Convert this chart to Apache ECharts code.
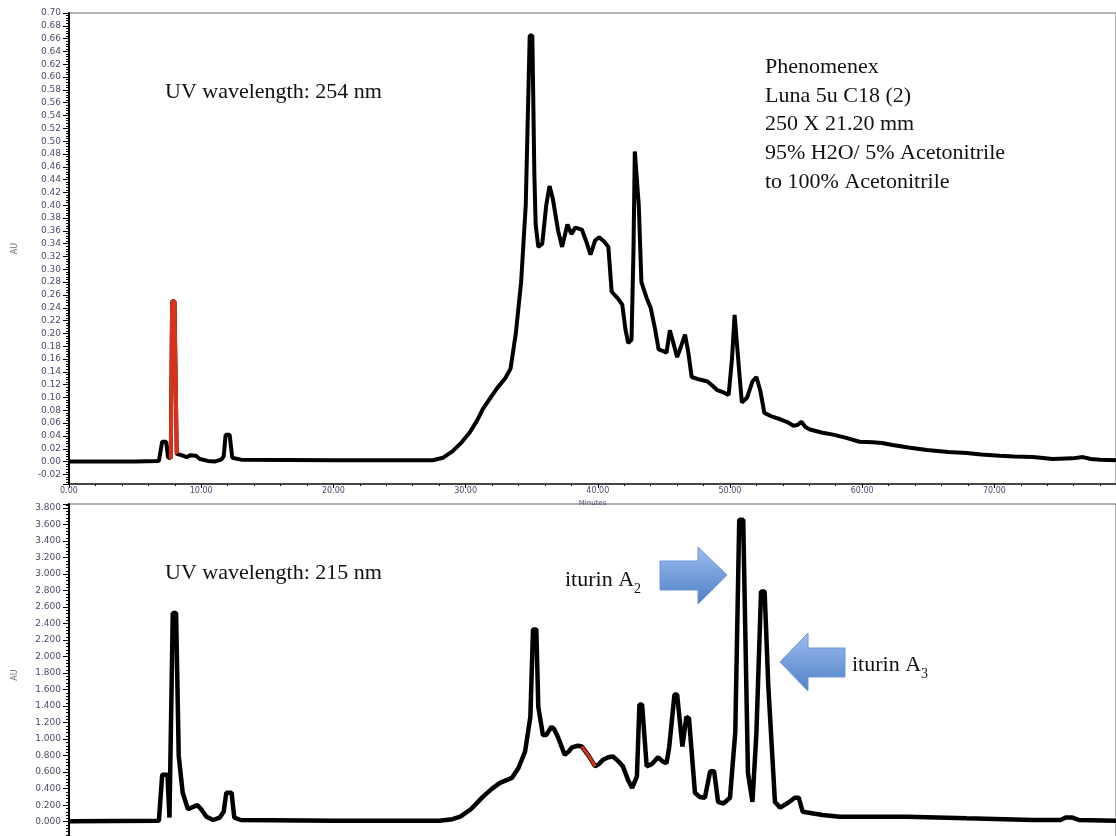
<!DOCTYPE html>
<html>
<head>
<meta charset="utf-8">
<script src="https://cdn.jsdelivr.net/npm/echarts@6/dist/echarts.min.js"></script>
<style>html,body{margin:0;padding:0;background:#fff;overflow:hidden}#c{width:1116px;height:846px}</style>
</head>
<body>
<div id="c"></div>
<script>
// ---- top chromatogram (254 nm) ----
var topT = [0,5,6.8,6.95,7.05,7.35,7.5,7.7,7.8,7.98,8.15,8.5,8.9,9.2,9.6,9.9,10.5,11.0,11.5,11.7,11.85,12.15,12.35,13.0,20,27.5,28.3,29.0,29.7,30.3,30.9,31.3,31.9,32.4,33.0,33.4,33.8,34.2,34.55,34.85,35.05,35.2,35.3,35.5,35.8,36.1,36.35,36.6,37.0,37.3,37.7,38.0,38.3,38.8,39.1,39.45,39.8,40.1,40.5,40.8,41.05,41.5,41.85,42.1,42.3,42.55,42.7,42.8,42.95,43.1,43.3,43.7,44.0,44.35,44.6,45.0,45.2,45.45,45.65,46.0,46.3,46.6,46.85,47.1,47.7,48.3,48.7,49.0,49.5,49.9,50.15,50.35,50.5,50.7,50.9,51.3,51.7,52.0,52.3,52.6,53.2,53.8,54.3,54.8,55.1,55.4,55.7,56.05,57.0,57.8,58.8,59.8,60.8,61.5,62.3,63.5,64.9,66.5,67.9,69.0,70.4,71.5,72.9,73.5,74.4,75.9,76.7,77.3,78.0,79.2];
var topV = [0,0,0.001,0.004,0.031,0.031,0.006,0.006,0.25,0.25,0.012,0.010,0.007,0.010,0.009,0.004,0.001,0.000,0.003,0.008,0.042,0.042,0.006,0.003,0.002,0.002,0.006,0.016,0.030,0.045,0.065,0.082,0.100,0.115,0.130,0.145,0.20,0.28,0.40,0.665,0.665,0.45,0.37,0.335,0.34,0.40,0.430,0.41,0.36,0.335,0.37,0.355,0.365,0.362,0.345,0.323,0.345,0.350,0.343,0.335,0.265,0.255,0.245,0.205,0.185,0.19,0.33,0.484,0.484,0.40,0.28,0.255,0.24,0.205,0.175,0.172,0.17,0.205,0.19,0.163,0.18,0.198,0.17,0.132,0.128,0.125,0.118,0.112,0.108,0.104,0.16,0.229,0.229,0.14,0.092,0.10,0.125,0.132,0.11,0.076,0.070,0.066,0.062,0.056,0.057,0.062,0.054,0.050,0.045,0.042,0.037,0.031,0.030,0.029,0.026,0.022,0.018,0.015,0.0135,0.011,0.009,0.008,0.007,0.006,0.004,0.005,0.007,0.004,0.003,0.002];
var topRedT = [7.7,7.8,7.98,8.15];
var topRedV = [0.004,0.25,0.25,0.012];

// ---- bottom chromatogram (215 nm) ----
var botT = [0,6.8,6.95,7.05,7.45,7.6,7.72,7.85,8.1,8.3,8.6,9.0,9.4,9.7,10.0,10.4,10.9,11.4,11.7,11.9,12.3,12.5,13,20,28.0,29.0,29.6,30.4,31.3,32.0,32.6,33.5,34.0,34.5,34.9,35.1,35.35,35.5,35.85,36.1,36.5,36.7,37.0,37.5,37.8,38.05,38.5,38.8,39.3,39.8,40.1,40.4,40.8,41.15,41.5,41.9,42.3,42.6,42.96,43.15,43.35,43.7,44.1,44.55,44.9,45.2,45.4,45.8,46.0,46.4,46.7,46.9,47.35,47.7,48.1,48.5,48.8,49.1,49.5,50.0,50.4,50.7,51.0,51.36,51.7,52.0,52.35,52.62,52.9,53.4,53.8,54.4,54.9,55.2,55.5,57.0,58.3,60.4,63.4,67.9,72.9,75.0,75.4,75.9,76.4,79.2];
var botV = [0.005,0.01,0.03,0.57,0.57,0.05,0.05,2.53,2.53,0.8,0.35,0.15,0.18,0.2,0.15,0.06,0.02,0.05,0.12,0.35,0.35,0.05,0.02,0.01,0.01,0.03,0.06,0.15,0.30,0.40,0.47,0.53,0.65,0.85,1.27,2.33,2.33,1.39,1.05,1.05,1.15,1.12,1.02,0.81,0.85,0.9,0.92,0.91,0.80,0.67,0.70,0.75,0.78,0.79,0.74,0.67,0.50,0.41,0.55,1.42,1.42,0.67,0.70,0.78,0.73,0.71,0.9,1.54,1.54,0.91,1.27,1.25,0.35,0.30,0.29,0.61,0.61,0.24,0.22,0.29,1.08,3.66,3.66,0.59,0.24,1.08,2.79,2.79,1.64,0.24,0.17,0.23,0.29,0.29,0.12,0.08,0.06,0.06,0.06,0.04,0.02,0.02,0.05,0.05,0.02,0.01];
var botRedT = [38.8,39.3,39.8];
var botRedV = [0.91,0.80,0.67];

function zip(a, b) { return a.map(function (x, i) { return [x, b[i]]; }); }

var chart = echarts.init(document.getElementById('c'));
var lblColor = '#4b4b6e';
var serif = '"Liberation Serif", "Times New Roman", serif';

function yAxisCfg(grid, min, max, split, dec, showMax, hideNeg) {
  return {
    type: 'value', gridIndex: grid, min: min, max: max, splitNumber: split,
    name: 'AU', nameLocation: 'middle', nameGap: 50,
    nameTextStyle: { fontSize: 8, color: '#777', fontFamily: 'DejaVu Sans' },
    axisLine: { show: true, lineStyle: { color: '#000', width: 2 } },
    axisTick: { show: true, length: 6, lineStyle: { color: '#000', width: 1 } },
    minorTick: { show: true, splitNumber: 5, length: 3, lineStyle: { color: '#000', width: 1 } },
    splitLine: { show: false },
    axisLabel: { showMinLabel: false, showMaxLabel: showMax, margin: 8, fontSize: 9, color: lblColor, fontFamily: 'DejaVu Sans',
      formatter: function (v) { if (hideNeg && v < 0) { return ''; } return v.toFixed(dec); } }
  };
}
function xAxisCfg(grid, showLabels) {
  return {
    type: 'value', gridIndex: grid, min: 0, max: 79.2, splitNumber: 8,
    name: showLabels ? 'Minutes' : '', nameLocation: 'middle', nameGap: 13,
    nameTextStyle: { fontSize: 7, color: lblColor, fontFamily: 'DejaVu Sans' },
    axisLine: { show: true, onZero: false, lineStyle: { color: '#222', width: 1.5 } },
    axisTick: { show: true, length: 4, lineStyle: { color: '#000' } },
    minorTick: { show: true, splitNumber: 5, length: 2, lineStyle: { color: '#000' } },
    splitLine: { show: false },
    axisLabel: { show: showLabels, showMaxLabel: false, margin: 3, fontSize: 8, color: lblColor, fontFamily: 'DejaVu Sans',
      formatter: function (v) { return v.toFixed(2); } }
  };
}

var grad = new echarts.graphic.LinearGradient(0, 0, 0, 1, [
  { offset: 0, color: '#9dbdf0' }, { offset: 1, color: '#4f7fc6' }
]);
var grad2 = new echarts.graphic.LinearGradient(0, 0, 0, 1, [
  { offset: 0, color: '#9dbdf0' }, { offset: 1, color: '#4f7fc6' }
]);

function txt(s, x, y, size) {
  return { type: 'text', z: 100, style: { text: s, x: x, y: y, fill: '#111', font: (size || 22) + 'px ' + serif, verticalAlign: 'middle' } };
}

var option = {
  backgroundColor: '#fff',
  animation: false,
  grid: [
    { left: 69, right: 0, top: 13, bottom: 362, show: true, borderColor: '#666', borderWidth: 1, backgroundColor: 'transparent' },
    { left: 69, right: 0, top: 504, bottom: 0, show: true, borderColor: '#666', borderWidth: 1, backgroundColor: 'transparent' }
  ],
  xAxis: [xAxisCfg(0, true), xAxisCfg(1, false)],
  yAxis: [yAxisCfg(0, -0.035, 0.70, 37, 2, true, false), yAxisCfg(1, -0.295, 3.85, 20, 3, false, true)],
  series: [
    { type: 'line', xAxisIndex: 0, yAxisIndex: 0, data: zip(topT, topV), showSymbol: false, lineStyle: { color: '#000', width: 4 }, z: 2 },
    { type: 'line', xAxisIndex: 0, yAxisIndex: 0, data: zip(topRedT, topRedV), showSymbol: false, lineStyle: { color: '#d8321a', width: 4 }, z: 3 },
    { type: 'line', xAxisIndex: 1, yAxisIndex: 1, data: zip(botT, botV), showSymbol: false, lineStyle: { color: '#000', width: 4.5 }, z: 2 },
    { type: 'line', xAxisIndex: 1, yAxisIndex: 1, data: zip(botRedT, botRedV), showSymbol: false, lineStyle: { color: '#d8321a', width: 3 }, z: 3 }
  ],
  graphic: [
    txt('UV wavelength: 254 nm', 165, 92),
    txt('Phenomenex', 765, 67),
    txt('Luna 5u C18 (2)', 765, 96),
    txt('250 X 21.20 mm', 765, 124),
    txt('95% H2O/ 5% Acetonitrile', 765, 153),
    txt('to 100% Acetonitrile', 765, 182),
    txt('UV wavelength: 215 nm', 165, 573),
    txt('iturin A', 565, 580),
    txt('2', 634, 589, 14),
    txt('iturin A', 852, 665),
    txt('3', 921, 674, 14),
    { type: 'polygon', z: 90, shape: { points: [[660, 561], [698, 561], [698, 547], [727, 575], [698, 604], [698, 590], [660, 590]] },
      style: { fill: grad, stroke: '#6f98d4', lineWidth: 1 } },
    { type: 'polygon', z: 90, shape: { points: [[845, 648], [808, 648], [808, 633], [780, 662], [808, 691], [808, 677], [845, 677]] },
      style: { fill: grad2, stroke: '#6f98d4', lineWidth: 1 } }
  ]
};
chart.setOption(option);
</script>
</body>
</html>
